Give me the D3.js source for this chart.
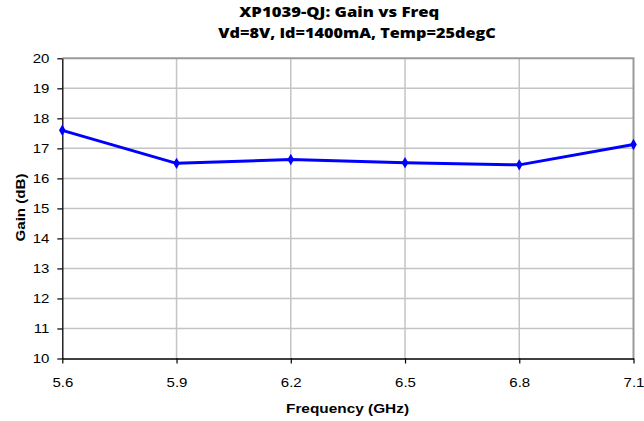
<!DOCTYPE html>
<html lang="en">
<head>
  <meta charset="UTF-8">
  <title>XP1039-QJ Gain vs Freq</title>
  <script src="https://d3js.org/d3.v7.min.js"></script>
  <style>
    body { margin: 0; background: white; }
    .tick text { font-family: "Liberation Sans", Arial, sans-serif; font-size: 13.5px; fill: #000; }
  </style>
</head>
<body>
  <svg class="chart" width="644" height="421"></svg>
  <script>
    // data
    const freqs = [5.6, 5.9, 6.2, 6.5, 6.8, 7.1];
    const gains = [17.6, 16.5, 16.63, 16.52, 16.45, 17.13];
    const xTicks = [5.6, 5.9, 6.2, 6.5, 6.8, 7.1];
    const yTicks = [10, 11, 12, 13, 14, 15, 16, 17, 18, 19, 20];
    const titleLines = ["XP1039-QJ: Gain vs Freq", "Vd=8V, Id=1400mA, Temp=25degC"];

    const svg = d3.select('svg.chart');
    const plotL = 62.3, plotR = 633.5, plotT = 58.3, plotB = 358.5;
    const stretch = 1.11; // reference text is a bit wider than it is tall

    const x = d3.scaleLinear().domain([5.6, 7.1]).range([plotL, plotR]);
    const y = d3.scaleLinear().domain([10, 20]).range([plotB, plotT]);

    // grid
    const grid = svg.append('g');
    grid.selectAll('line.h').data(yTicks.slice(1, -1)).join('line')
      .attr('x1', plotL).attr('x2', plotR)
      .attr('y1', d => y(d)).attr('y2', d => y(d))
      .attr('stroke', '#c4c4c4').attr('stroke-width', 1.5);
    grid.selectAll('line.v').data(xTicks.slice(1, -1)).join('line')
      .attr('y1', plotT).attr('y2', plotB)
      .attr('x1', d => x(d)).attr('x2', d => x(d))
      .attr('stroke', '#c4c4c4').attr('stroke-width', 1.5);
    // top and right border
    svg.append('path')
      .attr('d', `M${plotL},${plotT}H${plotR}V${plotB}`)
      .attr('fill', 'none').attr('stroke', '#9a9a9a').attr('stroke-width', 2);

    // axes
    const xAxis = svg.append('g').attr('transform', `translate(0,${plotB})`)
      .call(d3.axisBottom(x).tickValues(xTicks).tickFormat(d3.format('.1f'))
        .tickSizeInner(5).tickSizeOuter(0).tickPadding(14));
    const yAxis = svg.append('g').attr('transform', `translate(${plotL},0)`)
      .call(d3.axisLeft(y).tickValues(yTicks).tickFormat(d3.format('d'))
        .tickSizeInner(5).tickSizeOuter(0).tickPadding(8));
    [xAxis, yAxis].forEach(a => {
      a.select('.domain').attr('stroke', '#000').attr('stroke-width', 1.3);
      a.selectAll('.tick line').attr('stroke', '#000').attr('stroke-width', 1.2);
    });
    svg.selectAll('.tick text').each(function () {
      const w = this.getComputedTextLength();
      d3.select(this).attr('textLength', w * stretch).attr('lengthAdjust', 'spacingAndGlyphs');
    });

    // series
    const line = d3.line().x((d, i) => x(freqs[i])).y(d => y(d));
    svg.append('path').datum(gains)
      .attr('d', line)
      .attr('fill', 'none').attr('stroke', '#0000ff').attr('stroke-width', 3)
      .attr('stroke-linejoin', 'round');
    svg.selectAll('path.mark').data(gains).join('path')
      .attr('class', 'mark')
      .attr('d', d3.symbol(d3.symbolDiamond, 38))
      .attr('transform', (d, i) => `translate(${x(freqs[i])},${y(d)})`)
      .attr('fill', '#0000ff');

    // titles
    const titleFont = '"Open Sans", "Noto Sans", sans-serif';
    svg.append('text').text(titleLines[0])
      .attr('x', 239.3).attr('y', 17)
      .attr('textLength', 200).attr('lengthAdjust', 'spacingAndGlyphs')
      .style('font-family', titleFont).style('font-weight', 800).style('font-size', '14.5px');
    svg.append('text').text(titleLines[1])
      .attr('x', 218.3).attr('y', 37.8)
      .attr('textLength', 277.5).attr('lengthAdjust', 'spacingAndGlyphs')
      .style('font-family', titleFont).style('font-weight', 800).style('font-size', '14.5px');

    svg.append('text').text('Frequency (GHz)')
      .attr('x', 286).attr('y', 413)
      .attr('textLength', 123).attr('lengthAdjust', 'spacingAndGlyphs')
      .style('font-family', '"Liberation Sans", Arial, sans-serif')
      .style('font-weight', 'bold').style('font-size', '13.3px');
    svg.append('text').text('Gain (dB)')
      .attr('transform', 'translate(24.5,241.5) rotate(-90)')
      .attr('textLength', 68).attr('lengthAdjust', 'spacingAndGlyphs')
      .style('font-family', '"Liberation Sans", Arial, sans-serif')
      .style('font-weight', 'bold').style('font-size', '12.8px');
  </script>
</body>
</html>
